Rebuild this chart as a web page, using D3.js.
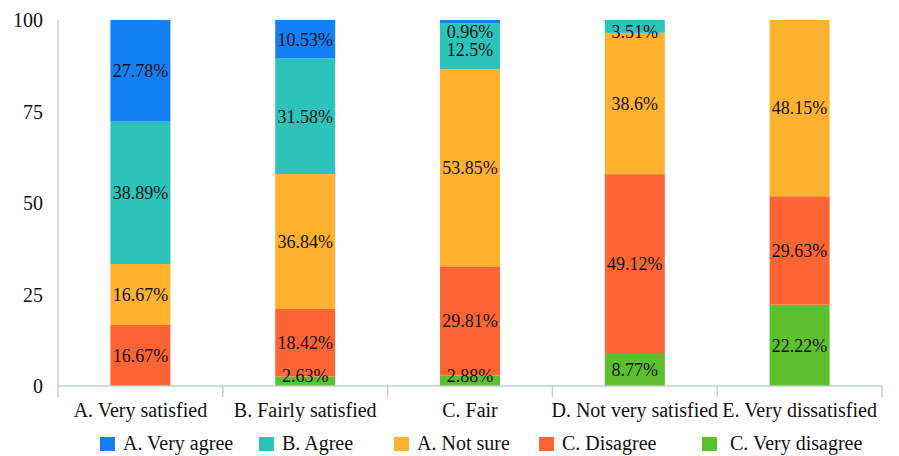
<!DOCTYPE html>
<html>
<head>
<meta charset="utf-8">
<script src="https://cdn.jsdelivr.net/npm/d3@7"></script>
<style>
  html, body { margin: 0; padding: 0; background: #fff; }
  svg { display: block; }
  svg text { font-family: "Liberation Serif", "Times New Roman", "DejaVu Serif", serif; }
</style>
</head>
<body>
<svg id="chart" width="899" height="456"></svg>
<script>
// Satisfaction groups along the x axis
const categories = ["A. Very satisfied", "B. Fairly satisfied", "C. Fair", "D. Not very satisfied", "E. Very dissatisfied"];

// Series, listed bottom of the stack to top (percent of each group)
const seriesNames = ["C. Very disagree", "C. Disagree", "A. Not sure", "B. Agree", "A. Very agree"];
const veryDisagree = [0, 2.63, 2.88, 8.77, 22.22];
const disagree     = [16.67, 18.42, 29.81, 49.12, 29.63];
const notSure      = [16.67, 36.84, 53.85, 38.6, 48.15];
const agree        = [38.89, 31.58, 12.5, 3.51, 0];
const veryAgree    = [27.78, 10.53, 0.96, 0, 0];

const yTicks = [0, 25, 50, 75, 100];
const legendOrder = ["A. Very agree", "B. Agree", "A. Not sure", "C. Disagree", "C. Very disagree"];

const colors = {
  "A. Very agree": "#1480F5",
  "B. Agree": "#2CC3BB",
  "A. Not sure": "#FEB22F",
  "C. Disagree": "#FE6535",
  "C. Very disagree": "#5CBF2E"
};

const FONT = "'Liberation Serif', 'Times New Roman', 'DejaVu Serif', serif";

const seriesValues = [veryDisagree, disagree, notSure, agree, veryAgree];
const rows = categories.map((c, i) => {
  const r = { category: c };
  seriesNames.forEach((s, k) => { r[s] = seriesValues[k][i]; });
  return r;
});

const svg = d3.select("#chart");
const plot = { left: 58, right: 882, top: 20, bottom: 386 };

const x = d3.scaleBand().domain(categories).range([plot.left, plot.right]).paddingInner(0).paddingOuter(0);
const y = d3.scaleLinear().domain([0, 100]).range([plot.bottom, plot.top]);
const barWidth = 60;

const layers = d3.stack().keys(seriesNames)(rows);
const axisColor = "#BFCEDD";

// bars
const g = svg.append("g");
layers.forEach(layer => {
  g.append("g")
    .selectAll("rect")
    .data(layer.filter(d => d[1] - d[0] > 0))
    .join("rect")
    .attr("x", d => x(d.data.category) + x.bandwidth() / 2 - barWidth / 2)
    .attr("width", barWidth)
    .attr("y", d => y(d[1]))
    .attr("height", d => y(d[0]) - y(d[1]))
    .attr("fill", colors[layer.key]);
});

// value labels: centred in each segment, kept inside the plot area,
// and pushed apart when neighbouring labels in one bar would collide
const labels = [];
categories.forEach((c, i) => {
  const inBar = [];
  layers.forEach(layer => {
    const d = layer[i];
    if (d[1] - d[0] <= 0) return;
    let cy = y((d[0] + d[1]) / 2);
    cy = Math.max(plot.top + 12, Math.min(plot.bottom - 10, cy));
    inBar.push({ cx: x(c) + x.bandwidth() / 2, cy, text: d.data[layer.key] + "%" });
  });
  // top-most first
  inBar.sort((a, b) => a.cy - b.cy);
  for (let k = 1; k < inBar.length; k++) {
    if (inBar[k].cy - inBar[k - 1].cy < 18) inBar[k].cy = inBar[k - 1].cy + 18;
  }
  labels.push(...inBar);
});
g.append("g")
  .selectAll("text")
  .data(labels)
  .join("text")
  .attr("x", d => d.cx)
  .attr("y", d => d.cy)
  .attr("dy", "0.35em")
  .attr("text-anchor", "middle")
  .attr("font-family", FONT)
  .attr("font-size", 18)
  .attr("fill", "#111")
  .text(d => d.text);

// y axis line
svg.append("line")
  .attr("x1", plot.left).attr("x2", plot.left)
  .attr("y1", plot.top).attr("y2", plot.bottom)
  .attr("stroke", axisColor).attr("stroke-width", 1.5);

// y tick labels
svg.append("g")
  .selectAll("text")
  .data(yTicks)
  .join("text")
  .attr("x", 43)
  .attr("y", d => y(d))
  .attr("dy", "0.35em")
  .attr("text-anchor", "end")
  .attr("font-family", FONT)
  .attr("font-size", 20)
  .attr("fill", "#111")
  .text(d => d);

// x axis with ticks at the band edges
const xAxis = svg.append("g");
xAxis.append("line")
  .attr("x1", plot.left).attr("x2", plot.right)
  .attr("y1", plot.bottom).attr("y2", plot.bottom)
  .attr("stroke", axisColor).attr("stroke-width", 1.5);
const edges = categories.map(c => x(c)).concat([x(categories[categories.length - 1]) + x.bandwidth()]);
xAxis.selectAll("line.tick")
  .data(edges)
  .join("line")
  .attr("class", "tick")
  .attr("x1", d => d).attr("x2", d => d)
  .attr("y1", plot.bottom).attr("y2", plot.bottom + 11)
  .attr("stroke", axisColor).attr("stroke-width", 1.5);
xAxis.selectAll("text")
  .data(categories)
  .join("text")
  .attr("x", d => x(d) + x.bandwidth() / 2)
  .attr("y", 417)
  .attr("text-anchor", "middle")
  .attr("font-family", FONT)
  .attr("font-size", 20)
  .attr("fill", "#111")
  .text(d => d);

// legend
const legendX = [100, 259, 394, 539, 702];
const legend = svg.append("g")
  .selectAll("g")
  .data(legendOrder)
  .join("g")
  .attr("transform", (d, i) => `translate(${legendX[i]},0)`);
legend.append("rect")
  .attr("x", 0).attr("y", 437)
  .attr("width", 15).attr("height", 14)
  .attr("fill", d => colors[d]);
legend.append("text")
  .attr("x", d => d === "C. Very disagree" ? 28 : 23)
  .attr("y", 450)
  .attr("font-family", FONT)
  .attr("font-size", 20)
  .attr("fill", "#111")
  .text(d => d);
</script>
</body>
</html>
